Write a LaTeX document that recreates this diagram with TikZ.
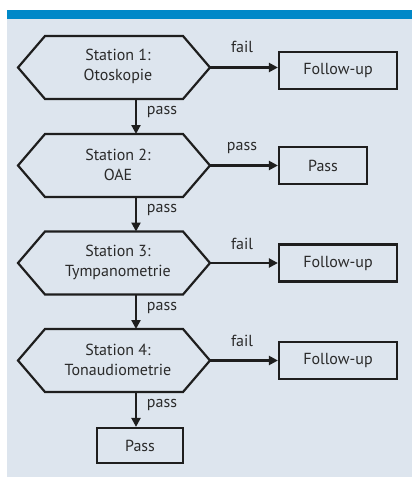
\documentclass[tikz,border=0pt]{standalone}
\usepackage{fontspec}
\setmainfont{PT Sans}
\usetikzlibrary{arrows.meta}
\definecolor{panelbg}{HTML}{DDE5EE}
\definecolor{barblue}{HTML}{0088C8}
\definecolor{linec}{HTML}{1E1E1E}
\definecolor{textc}{HTML}{2A2A2A}
\tikzset{
  every node/.style={font=\fontsize{16}{20}\selectfont, text=textc},
  hexline/.style={draw=linec, line width=2.2pt, line join=miter},
  boxnode/.style={draw=linec, line width=2.2pt, minimum height=37pt, inner sep=0pt},
  conn/.style={draw=linec, line width=2.2pt, -{Triangle[length=9pt,width=9pt]}},
  lbl/.style={inner sep=0pt}
}
\begin{document}
\begin{tikzpicture}[x=1pt,y=-1pt]
\useasboundingbox (0,0) rectangle (412,477);
\fill[white] (0,0) rectangle (412,477);
\fill[panelbg] (7,10) rectangle (412,477);
\fill[barblue] (7,10) rectangle (412,19);
% hexagons
\foreach \i/\cy in {1/67.5,2/165.5,3/263,4/360.5}{
  \draw[hexline] (18,\cy) -- (45,\cy-31.5) -- (183,\cy-31.5) -- (210,\cy) -- (183,\cy+31.5) -- (45,\cy+31.5) -- cycle;
  \coordinate (h\i r) at (210,\cy);
  \coordinate (h\i t) at (136,\cy-31.5);
  \coordinate (h\i b) at (136,\cy+31.5);
}
\node[align=center] (t1) at (118,66) {Station 1:\\Otoskopie};
\node[align=center] (t2) at (118,165) {Station 2:\\OAE};
\node[align=center] (t3) at (118,262) {Station 3:\\Tympanometrie};
\node[align=center] (t4) at (118,360) {Station 4:\\Tonaudiometrie};
% boxes
\node[boxnode, minimum width=118pt] (f1) at (338,70.5) {Follow-up};
\node[boxnode, minimum width=88pt] (p2) at (323,165.5) {Pass};
\node[boxnode, minimum width=118pt] (f3) at (338,263) {Follow-up};
\node[boxnode, minimum width=118pt] (f4) at (338,360.5) {Follow-up};
\node[boxnode, minimum width=86pt, minimum height=35pt] (p5) at (140,445.5) {Pass};
% connectors
\draw[conn] (h1r) -- (f1.west |- h1r);
\draw[conn] (h2r) -- (p2.west |- h2r);
\draw[conn] (h3r) -- (f3.west |- h3r);
\draw[conn] (h4r) -- (f4.west |- h4r);
\draw[conn] (h1b) -- (h2t);
\draw[conn] (h2b) -- (h3t);
\draw[conn] (h3b) -- (h4t);
\draw[conn] (h4b) -- (p5.north -| h4b);
% labels
\node[lbl] (l1) at (242,47) {fail};
\node[lbl] (l2) at (242,148) {pass};
\node[lbl] (l3) at (242,244) {fail};
\node[lbl] (l4) at (242,341) {fail};
\node[lbl] (v1) at (162,112) {pass};
\node[lbl] (v2) at (162,210) {pass};
\node[lbl] (v3) at (162,308) {pass};
\node[lbl] (v4) at (162,405) {pass};
\end{tikzpicture}
\end{document}
